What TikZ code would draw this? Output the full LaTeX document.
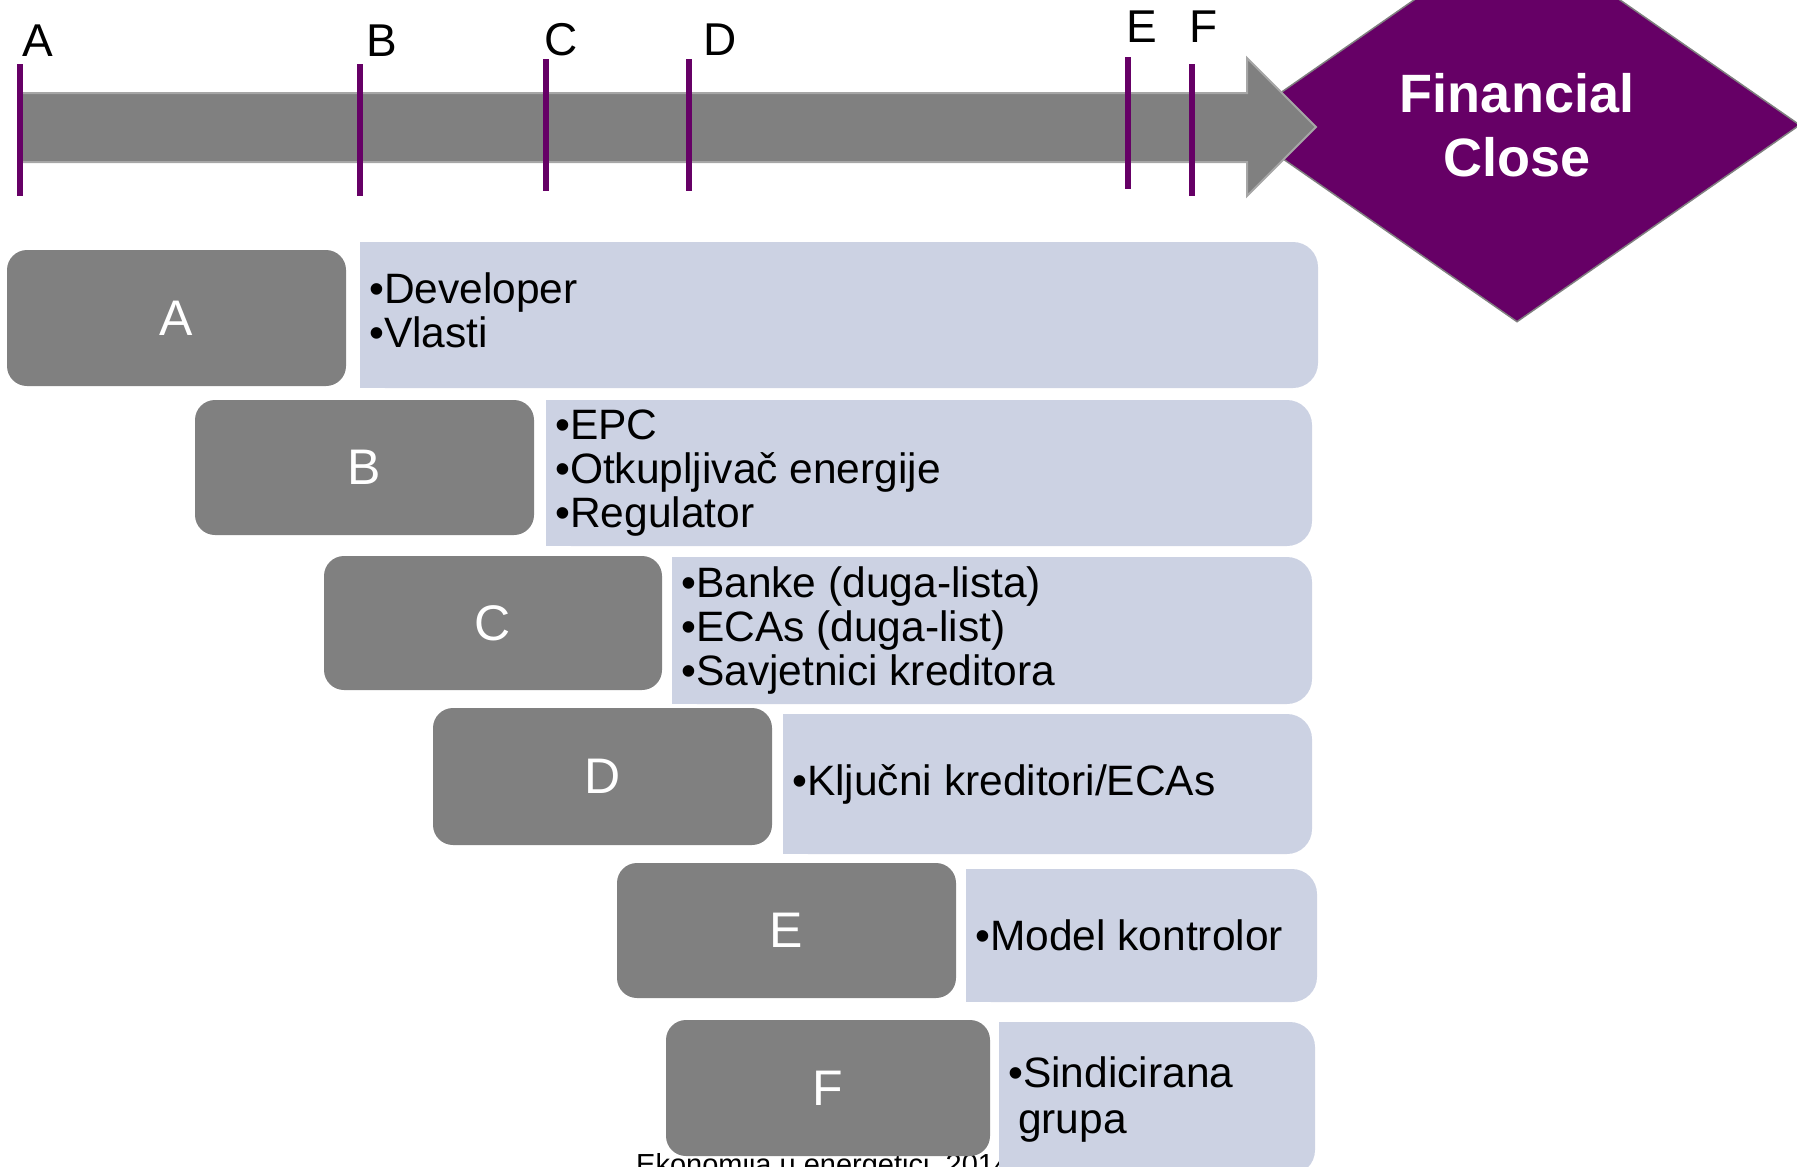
\documentclass[tikz,border=0pt]{standalone}
\usepackage{fontspec}
\setmainfont{Liberation Sans}
\usetikzlibrary{shapes.geometric}

\definecolor{boxgray}{RGB}{128,128,128}
\definecolor{edgegray}{RGB}{166,166,166}
\definecolor{plum}{RGB}{102,0,102}
\definecolor{paleblue}{RGB}{204,210,227}

\tikzset{
  graybox/.style={rectangle, rounded corners=20pt, fill=boxgray, text=white,
    inner sep=0pt, outer sep=0pt, anchor=north west,
    font=\fontsize{50}{60}\selectfont},
  bluebox/.style={rectangle, rounded corners=25pt, fill=paleblue,
    inner sep=0pt, outer sep=0pt, anchor=north west},
  items/.style={anchor=west, align=left, inner sep=0pt,
    font=\fontsize{42.5}{44}\selectfont},
  tickmark/.style={draw=plum, line width=5.5pt},
  tlabel/.style={anchor=base, inner sep=0pt, font=\fontsize{46}{50}\selectfont},
  timebar/.style={fill=boxgray, draw=edgegray, line width=2pt},
}

\begin{document}
\begin{tikzpicture}[x=1pt,y=-1pt]
\useasboundingbox (0,0) rectangle (1797,1167);
\clip (0,0) rectangle (1797,1167);

% footer line, partly hidden by the last row
\node[anchor=base west, inner sep=0pt, font=\fontsize{29}{30}\selectfont] (foot)
  at (636,1174) {Ekonomija u energetici, 2014};

% milestone diamond
\node[diamond, minimum width=566pt, minimum height=394pt, fill=plum,
  draw=boxgray, line width=1.5pt, inner sep=0pt, text=white, align=center,
  font=\bfseries\fontsize{54}{64}\selectfont] (fc) at (1517,125) {Financial\\Close};

% timeline arrow
\draw[timebar] (20,93) -- (1247,93) -- (1247,58) -- (1316,127) -- (1247,196)
  -- (1247,162) -- (20,162) -- cycle;

% phase ticks
\coordinate (tA1) at (20,64);   \coordinate (tA2) at (20,196);
\coordinate (tB1) at (360,64);  \coordinate (tB2) at (360,196);
\coordinate (tC1) at (546,59);  \coordinate (tC2) at (546,191);
\coordinate (tD1) at (689,59);  \coordinate (tD2) at (689,191);
\coordinate (tE1) at (1128,57); \coordinate (tE2) at (1128,189);
\coordinate (tF1) at (1192,64); \coordinate (tF2) at (1192,196);
\foreach \p in {A,B,C,D,E,F} \draw[tickmark] (t\p1) -- (t\p2);

\node[tlabel] (lA) at (38,56)   {A};
\node[tlabel] (lB) at (382,56)  {B};
\node[tlabel] (lC) at (561,55)  {C};
\node[tlabel] (lD) at (720,55)  {D};
\node[tlabel] (lE) at (1142,42) {E};
\node[tlabel] (lF) at (1204,42) {F};

% phase boxes
\node[graybox, minimum width=339pt, minimum height=136pt] (gA) at (7,250)   {A};
\node[graybox, minimum width=339pt, minimum height=135pt] (gB) at (195,400) {B};
\node[graybox, minimum width=338pt, minimum height=134pt] (gC) at (324,556) {C};
\node[graybox, minimum width=339pt, minimum height=137pt] (gD) at (433,708) {D};
\node[graybox, minimum width=339pt, minimum height=135pt] (gE) at (617,863) {E};
\node[graybox, minimum width=324pt, minimum height=136pt] (gF) at (666,1020) {F};

% participant panels (square on the left, rounded on the right)
\node[bluebox, minimum width=958pt, minimum height=146pt] (pA) at (360,242) {};
\fill[paleblue] (pA.north west) rectangle ([xshift=40pt]pA.south west);
\node[items] (tA) at ([xshift=9pt,yshift=5pt]pA.west) {•Developer\\•Vlasti};

\node[bluebox, minimum width=766pt, minimum height=146pt] (pB) at (546,400) {};
\fill[paleblue] (pB.north west) rectangle ([xshift=40pt]pB.south west);
\node[items] (tB) at ([xshift=9pt]pB.west) {•EPC\\•Otkupljivač energije\\•Regulator};

\node[bluebox, minimum width=640pt, minimum height=147pt] (pC) at (672,557) {};
\fill[paleblue] (pC.north west) rectangle ([xshift=40pt]pC.south west);
\node[items] (tC) at ([xshift=9pt]pC.west) {•Banke (duga-lista)\\•ECAs (duga-list)\\•Savjetnici kreditora};

\node[bluebox, minimum width=529pt, minimum height=140pt] (pD) at (783,714) {};
\fill[paleblue] (pD.north west) rectangle ([xshift=40pt]pD.south west);
\node[items] (tD) at ([xshift=9pt]pD.west) {•Ključni kreditori/ECAs};

\node[bluebox, minimum width=351pt, minimum height=133pt] (pE) at (966,869) {};
\fill[paleblue] (pE.north west) rectangle ([xshift=40pt]pE.south west);
\node[items] (tE) at ([xshift=9pt]pE.west) {•Model kontrolor};

\node[bluebox, minimum width=316pt, minimum height=153pt] (pF) at (999,1022) {};
\fill[paleblue] (pF.north west) rectangle ([xshift=40pt]pF.south west);
\node[items, font=\fontsize{42.5}{46}\selectfont] (tF) at (1008,1099) {•Sindicirana\\\hspace*{10pt}grupa};
\end{tikzpicture}
\end{document}
